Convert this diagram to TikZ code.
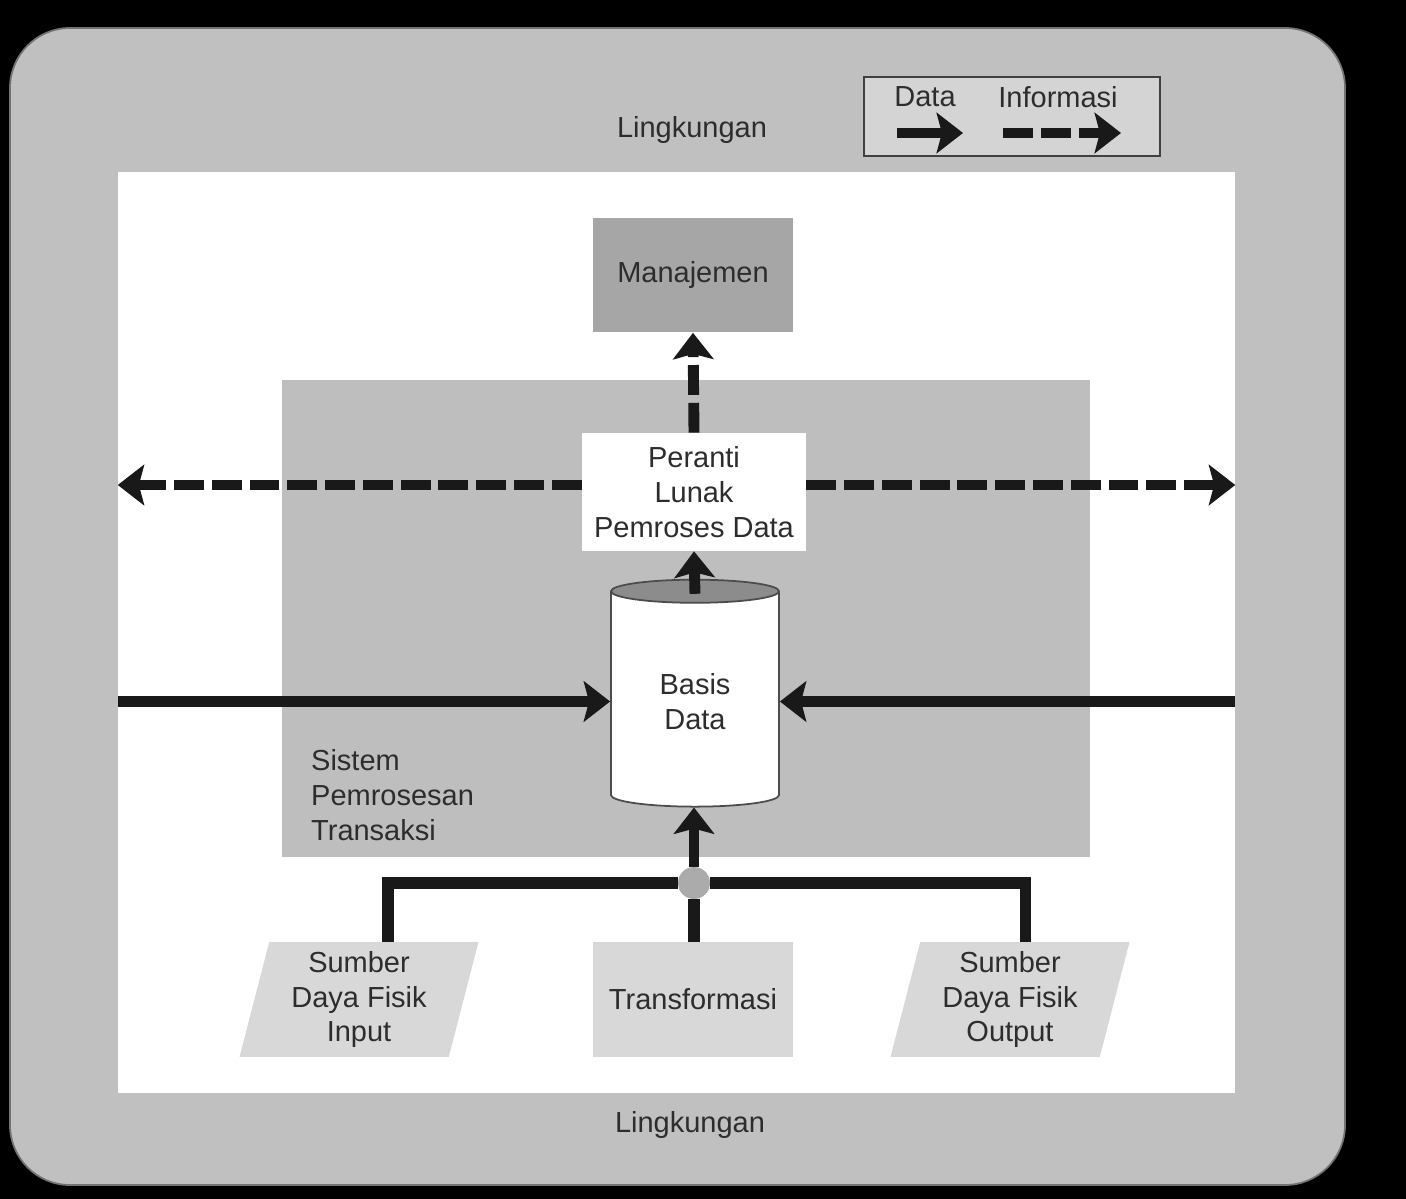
\documentclass[tikz,border=0pt]{standalone}
\usepackage{fontspec}
\setmainfont{Liberation Sans}
\usetikzlibrary{shapes.geometric, arrows.meta, positioning, calc}
\definecolor{envgray}{RGB}{192,192,192}
\definecolor{tpsgray}{RGB}{190,190,190}
\definecolor{mangray}{RGB}{166,166,166}
\definecolor{resgray}{RGB}{216,216,216}
\definecolor{topgray}{RGB}{140,140,140}
\definecolor{legendgray}{RGB}{212,212,212}
\definecolor{inkgray}{RGB}{45,45,45}
\tikzset{
  boxnode/.style={rectangle, fill=#1, minimum width=4cm, minimum height=2.3cm, align=center, inner sep=2pt},
  resnode/.style={trapezium, trapezium left angle=74, trapezium right angle=106, trapezium stretches body, fill=resgray, minimum width=4.78cm, minimum height=2.3cm, align=center, inner sep=2pt},
  data/.style={line width=6.2pt, draw=black!90, -{Stealth[length=15pt, width=23pt, inset=3pt]}},
  info/.style={data, dash pattern=on 17pt off 4.5pt},
  link/.style={line width=6.4pt, draw=black!90},
}
\begin{document}
\begin{tikzpicture}[x=0.02cm, y=-0.02cm,
  every node/.style={font=\fontsize{16.5}{19.8}\selectfont, text=inkgray}]
% environment
\fill[black] (0,0) rectangle (1406,1199);
\fill[envgray, draw=black!55, line width=1pt, rounded corners=1.2cm] (10,28) rectangle (1345,1185);
\node[fill=white, minimum width=22.34cm, minimum height=18.42cm, inner sep=0] (inner) at (676.5,632.5) {};
\node (envtop) at (692,130) {Lingkungan};
\node (envbot) at (690,1125) {Lingkungan};

% legend
\node[fill=legendgray, draw=black!75, line width=1.2pt, minimum width=5.92cm, minimum height=1.58cm] (legend) at (1012,116.5) {};
\node (lgdata) at (925,97) {Data};
\node (lginfo) at (1058,97) {Informasi};
\coordinate (lgd1) at (897,133);
\coordinate (lgd2) at (963,133);
\coordinate (lgi1) at (1003,133);
\coordinate (lgi2) at (1121,133);
\draw[data] (lgd1) -- (lgd2);
\draw[info] (lgi1) -- (lgi2);

% transaction processing system
\node[fill=tpsgray, minimum width=16.16cm, minimum height=9.54cm, inner sep=0] (tps) at (686,618.5) {};
\node[anchor=west, align=left] (tpslabel) at (305,795) {Sistem\\Pemrosesan\\Transaksi};

\node[boxnode=mangray] (man) at (693,275) {Manajemen};
\node[boxnode=white, minimum width=4.48cm, minimum height=2.36cm] (per) at (694,492) {Peranti\\Lunak\\Pemroses Data};
\node[cylinder, shape border rotate=90, aspect=0.28, draw=black!70, line width=1pt,
  cylinder uses custom fill, cylinder body fill=white, cylinder end fill=topgray,
  minimum width=3.36cm, minimum height=4.54cm, align=center] (db) at (695,701.5) {Basis\\Data};

% physical resources
\node[resnode] (inp) at (359,999.5) {Sumber\\Daya Fisik\\Input};
\node[boxnode=resgray] (trf) at (693,999.5) {Transformasi};
\node[resnode] (outp) at (1010,999.5) {Sumber\\Daya Fisik\\Output};
\node[circle, fill=black!33, minimum size=0.64cm, inner sep=0] (junc) at (694,883) {};

% flows
\coordinate (perl) at ($(per.west)+(0,-7)$);
\coordinate (perr) at ($(per.east)+(0,-7)$);
\draw[link] (junc.west) -| ([xshift=0.58cm]inp.north);
\draw[link] (junc.east) -| ([xshift=0.31cm]outp.north);
\draw[link] (junc.south) -- (junc.south |- trf.north);
\draw[data] (junc.north) -- (junc.north |- db.south);
\draw[data] ([yshift=-0.3cm]db.north) -- (per.south);
\draw[info] (per.north) -- (man.south);
\draw[info] (perl) -- (perl -| inner.west);
\draw[info] (perr) -- (perr -| inner.east);
\draw[data] (db.west -| inner.west) -- (db.west);
\draw[data] (db.east -| inner.east) -- (db.east);
\end{tikzpicture}
\end{document}
